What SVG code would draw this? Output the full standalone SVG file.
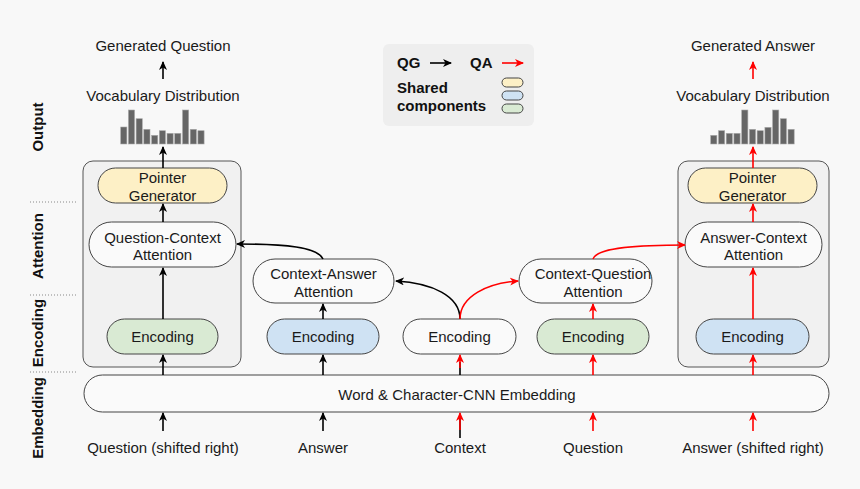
<svg xmlns="http://www.w3.org/2000/svg" width="860" height="489" viewBox="0 0 860 489">
<defs>
<marker id="ab" markerWidth="9" markerHeight="8" refX="8" refY="4" orient="auto" markerUnits="userSpaceOnUse"><path d="M0,0 L9,4 L0,8 L2.5,4 z" fill="#000"/></marker>
<marker id="ar" markerWidth="9" markerHeight="8" refX="8" refY="4" orient="auto" markerUnits="userSpaceOnUse"><path d="M0,0 L9,4 L0,8 L2.5,4 z" fill="#f00"/></marker>
<style>
text{font-family:"Liberation Sans",Arial,sans-serif;font-size:15px;fill:#1a1a1a;text-anchor:middle}
.b{font-weight:bold;fill:#111}
.lg{font-weight:bold;fill:#111;text-anchor:start;font-size:15px}
.box{stroke:#444;stroke-width:1}
.cont{fill:#f1f1f1;stroke:#555;stroke-width:1}
.w{fill:#fafafa}
.y{fill:#fdf0c6}
.bl{fill:#cfe2f3}
.g{fill:#d9ead3}
.k{stroke:#000;stroke-width:1.6;fill:none}
.r{stroke:#f00;stroke-width:1.6;fill:none}
.bar{fill:#666;stroke:#aaa;stroke-width:0.6}
.dot{stroke:#888;stroke-width:1;stroke-dasharray:1 2}
</style>
</defs>
<rect width="860" height="489" fill="#f8f8f8"/>

<g id="layers">
<line class="dot" x1="30" y1="202" x2="77" y2="202"/>
<line class="dot" x1="30" y1="295" x2="77" y2="295"/>
<line class="dot" x1="30" y1="372" x2="77" y2="372"/>
<text class="b" transform="translate(43,127) rotate(-90)">Output</text>
<text class="b" transform="translate(43,246) rotate(-90)">Attention</text>
<text class="b" transform="translate(43,333) rotate(-90)">Encoding</text>
<text class="b" transform="translate(43,418) rotate(-90)">Embedding</text>
</g>

<g id="legend">
<rect x="383" y="44" width="151" height="82" rx="6" fill="#eeeeee"/>
<text class="lg" x="397" y="68">QG</text>
<text class="lg" x="470" y="68">QA</text>
<line class="k" x1="430" y1="63" x2="451" y2="63" marker-end="url(#ab)"/>
<line class="r" x1="502" y1="63" x2="523" y2="63" marker-end="url(#ar)"/>
<text class="lg" x="397" y="93">Shared</text>
<text class="lg" x="397" y="111">components</text>
<rect class="box y" x="502" y="78" width="21" height="9" rx="4.5"/>
<rect class="box bl" x="502" y="91" width="21" height="9" rx="4.5"/>
<rect class="box g" x="502" y="104" width="21" height="9" rx="4.5"/>
</g>

<g id="qg-output">
<text x="163" y="51">Generated Question</text>
<text x="163" y="101">Vocabulary Distribution</text>
<rect class="bar" x="120.7" y="127" width="6.2" height="17"/>
<rect class="bar" x="128.4" y="110" width="6.2" height="34"/>
<rect class="bar" x="136.1" y="118.7" width="6.2" height="25.3"/>
<rect class="bar" x="143.8" y="129.3" width="6.2" height="14.7"/>
<rect class="bar" x="151.6" y="135.3" width="6.2" height="8.7"/>
<rect class="bar" x="159.3" y="130.7" width="6.2" height="13.3"/>
<rect class="bar" x="167" y="133.3" width="6.2" height="10.7"/>
<rect class="bar" x="174.7" y="133.3" width="6.2" height="10.7"/>
<rect class="bar" x="182.5" y="110" width="6.2" height="34"/>
<rect class="bar" x="190.2" y="129.3" width="6.2" height="14.7"/>
<rect class="bar" x="197.9" y="130.7" width="6.2" height="13.3"/>
</g>

<g id="qa-output">
<text x="753" y="51">Generated Answer</text>
<text x="753" y="101">Vocabulary Distribution</text>
<rect class="bar" x="710.7" y="135.3" width="6.2" height="8.7"/>
<rect class="bar" x="718.5" y="130.7" width="6.2" height="13.3"/>
<rect class="bar" x="726.2" y="133.3" width="6.2" height="10.7"/>
<rect class="bar" x="733.9" y="133.3" width="6.2" height="10.7"/>
<rect class="bar" x="741.7" y="110" width="6.2" height="34"/>
<rect class="bar" x="749.4" y="129.3" width="6.2" height="14.7"/>
<rect class="bar" x="757.1" y="130.7" width="6.2" height="13.3"/>
<rect class="bar" x="764.9" y="127.3" width="6.2" height="16.7"/>
<rect class="bar" x="772.6" y="110" width="6.2" height="34"/>
<rect class="bar" x="780.3" y="118.7" width="6.2" height="25.3"/>
<rect class="bar" x="788" y="129.3" width="6.2" height="14.7"/>
</g>

<g id="qg-container"><rect class="cont" x="83" y="161" width="158" height="206" rx="10"/></g>
<g id="qa-container"><rect class="cont" x="678" y="161" width="151" height="206" rx="10"/></g>

<g id="qg-pointer"><rect class="box y" x="98" y="168" width="129" height="35" rx="17.5"/><text x="162.5" y="182.5">Pointer</text><text x="162.5" y="200.5">Generator</text></g>
<g id="qg-attention"><rect class="box w" x="89" y="222" width="147" height="45" rx="22.5"/><text x="162.5" y="242.5">Question-Context</text><text x="162.5" y="259.5">Attention</text></g>
<g id="qg-encoding"><rect class="box g" x="107" y="319" width="111" height="35" rx="17.5"/><text x="162.5" y="342">Encoding</text></g>

<g id="ca-attention"><rect class="box w" x="253" y="259" width="141" height="44" rx="22"/><text x="323.5" y="278.5">Context-Answer</text><text x="323.5" y="296.5">Attention</text></g>
<g id="answer-encoding"><rect class="box bl" x="267" y="319" width="112" height="35" rx="17.5"/><text x="323" y="342">Encoding</text></g>
<g id="context-encoding"><rect class="box w" x="403" y="319" width="113" height="35" rx="17.5"/><text x="459.5" y="342">Encoding</text></g>
<g id="cq-attention"><rect class="box w" x="519" y="259" width="133" height="44" rx="22"/><text x="593" y="278.5">Context-Question</text><text x="593" y="296.5">Attention</text></g>
<g id="question-encoding"><rect class="box g" x="537" y="319" width="112" height="35" rx="17.5"/><text x="593" y="342">Encoding</text></g>

<g id="qa-pointer"><rect class="box y" x="688" y="168" width="129" height="35" rx="17.5"/><text x="752.5" y="182.5">Pointer</text><text x="752.5" y="200.5">Generator</text></g>
<g id="qa-attention"><rect class="box w" x="685" y="222" width="137" height="45" rx="22.5"/><text x="753.5" y="242.5">Answer-Context</text><text x="753.5" y="259.5">Attention</text></g>
<g id="qa-encoding"><rect class="box bl" x="696" y="319" width="113" height="35" rx="17.5"/><text x="752.5" y="342">Encoding</text></g>

<g id="embedding"><rect class="box w" x="84" y="375" width="745" height="37" rx="18.5"/><text x="457" y="399.5">Word &amp; Character-CNN Embedding</text></g>

<g id="inputs">
<text x="163" y="452.5">Question (shifted right)</text>
<text x="323" y="452.5">Answer</text>
<text x="460" y="452.5">Context</text>
<text x="593" y="452.5">Question</text>
<text x="753" y="452.5">Answer (shifted right)</text>
</g>

<g id="connectors">
<line class="k" x1="163" y1="431" x2="163" y2="413" marker-end="url(#ab)"/>
<line class="k" x1="323" y1="431" x2="323" y2="413" marker-end="url(#ab)"/>
<line class="k" x1="460" y1="438" x2="460" y2="418"/>
<line class="r" x1="460" y1="430" x2="460" y2="413" marker-end="url(#ar)"/>
<line class="r" x1="593" y1="431" x2="593" y2="413" marker-end="url(#ar)"/>
<line class="r" x1="753" y1="431" x2="753" y2="413" marker-end="url(#ar)"/>

<line class="k" x1="163" y1="375" x2="163" y2="355" marker-end="url(#ab)"/>
<line class="k" x1="323" y1="375" x2="323" y2="355" marker-end="url(#ab)"/>
<line class="k" x1="460" y1="375" x2="460" y2="362"/>
<line class="r" x1="460" y1="368" x2="460" y2="355" marker-end="url(#ar)"/>
<line class="r" x1="593" y1="375" x2="593" y2="355" marker-end="url(#ar)"/>
<line class="r" x1="753" y1="375" x2="753" y2="355" marker-end="url(#ar)"/>

<line class="k" x1="163" y1="319" x2="163" y2="268" marker-end="url(#ab)"/>
<line class="k" x1="163" y1="222" x2="163" y2="204" marker-end="url(#ab)"/>
<line class="k" x1="163" y1="168" x2="163" y2="147" marker-end="url(#ab)"/>
<line class="k" x1="163" y1="79" x2="163" y2="62" marker-end="url(#ab)"/>

<line class="k" x1="323" y1="319" x2="323" y2="304" marker-end="url(#ab)"/>
<line class="r" x1="593" y1="319" x2="593" y2="304" marker-end="url(#ar)"/>

<line class="r" x1="753" y1="319" x2="753" y2="268" marker-end="url(#ar)"/>
<line class="r" x1="753" y1="222" x2="753" y2="204" marker-end="url(#ar)"/>
<line class="r" x1="753" y1="168" x2="753" y2="147" marker-end="url(#ar)"/>
<line class="r" x1="753" y1="79" x2="753" y2="62" marker-end="url(#ar)"/>

<path class="k" d="M460,319 C460,296 432,283 396,281" marker-end="url(#ab)"/>
<path class="r" d="M460,319 C460,296 488,283 518,281" marker-end="url(#ar)"/>
<path class="k" d="M323,259 C318,247 285,244 237,244" marker-end="url(#ab)"/>
<path class="r" d="M593,259 C597,247 640,245 685,245" marker-end="url(#ar)"/>
</g>
</svg>
